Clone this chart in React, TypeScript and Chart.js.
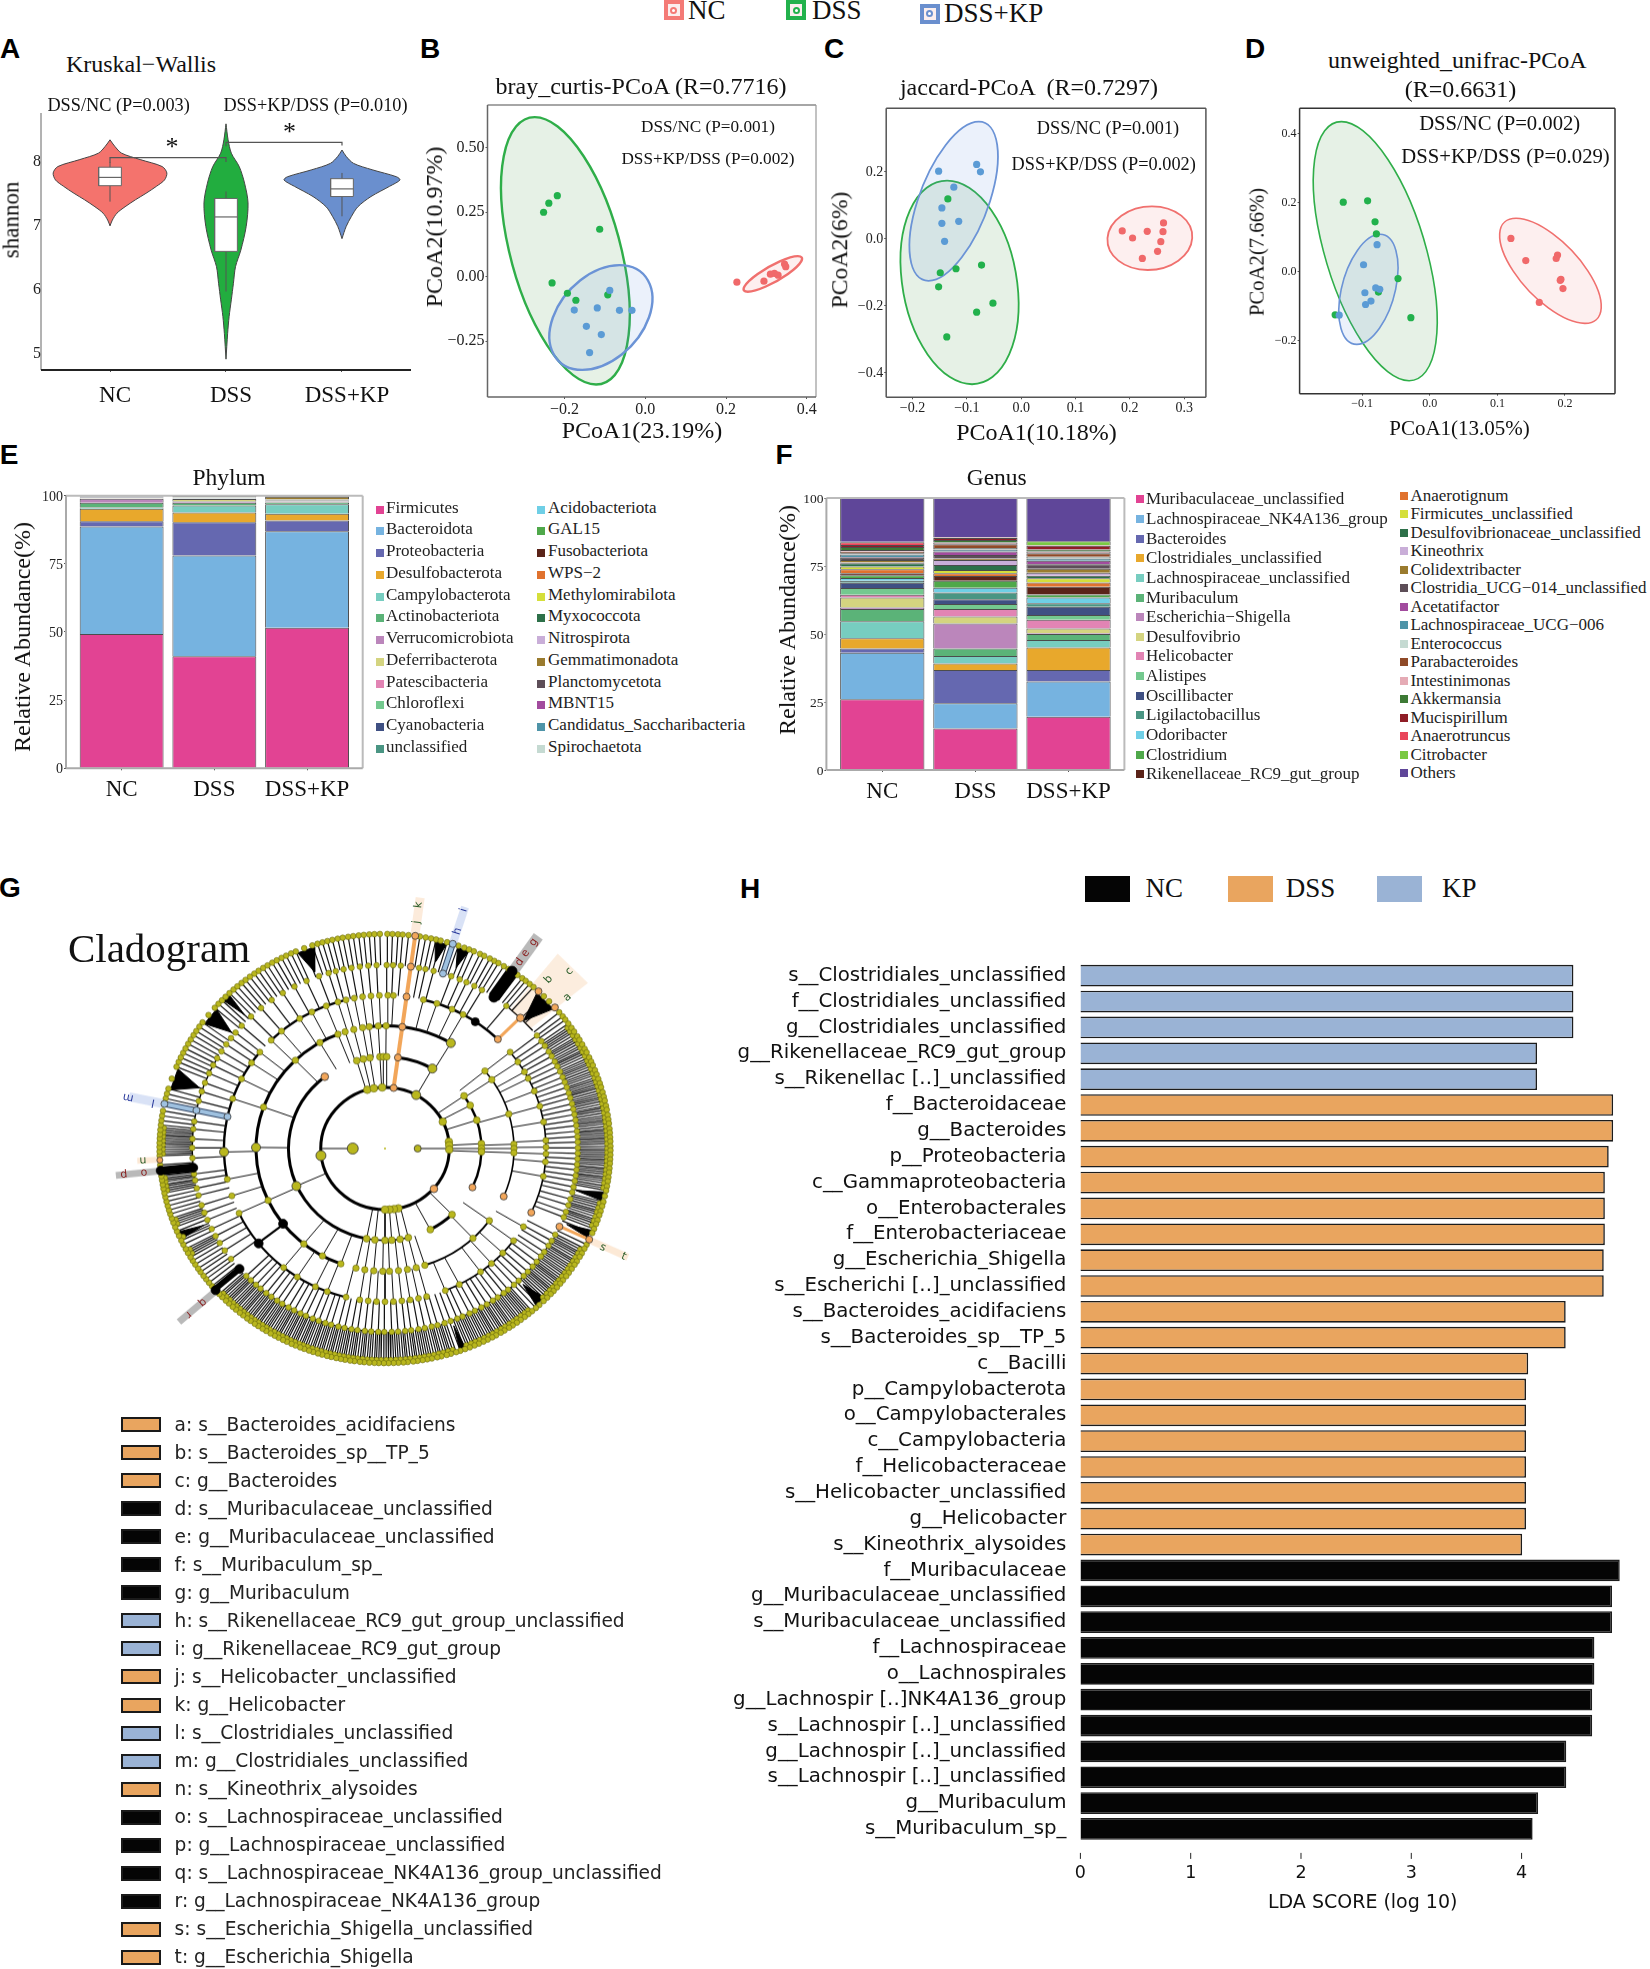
import React, { useEffect, useRef } from "react";
import { Chart, registerables } from "chart.js";

Chart.register(...registerables);

const SERIF = "'Liberation Serif'";
const DEJAVU = "'DejaVu Sans'";
const RED = "#f4736d";
const GREEN = "#22ad3f";
const BLUE = "#6a8fce";

// ---------- A: violin ----------
const groups = ["NC", "DSS", "DSS+KP"];
const shannonTicks = [5, 6, 7, 8];
const violinNCy = [8.35, 8.25, 8.14, 8.04, 7.93, 7.83, 7.72, 7.62, 7.51, 7.41, 7.3, 7.2, 7.09, 7.0];
const violinNCw = [0, 0.04, 0.1, 0.26, 0.45, 0.49, 0.47, 0.4, 0.31, 0.22, 0.13, 0.06, 0.02, 0];
const violinDSSy = [8.6, 8.35, 8.14, 7.93, 7.67, 7.36, 6.99, 6.62, 6.36, 6.1, 5.84, 5.58, 5.31, 4.91];
const violinDSSw = [0, 0.018, 0.046, 0.114, 0.16, 0.19, 0.174, 0.128, 0.082, 0.064, 0.046, 0.027, 0.014, 0];
const violinKPy = [8.19, 8.09, 7.98, 7.88, 7.77, 7.72, 7.62, 7.46, 7.3, 7.15, 6.99, 6.8];
const violinKPw = [0, 0.036, 0.1, 0.26, 0.47, 0.5, 0.41, 0.25, 0.137, 0.082, 0.036, 0];
// whisker low, q1, median, q3, whisker high
const boxNC = [7.38, 7.63, 7.76, 7.92, 8.0];
const boxDSS = [5.97, 6.6, 7.14, 7.43, 7.54];
const boxKP = [7.15, 7.46, 7.58, 7.74, 7.83];
const bracketNCDSS = [[1, 7.99], [1, 8.07], [2, 8.07], [2, 8.0]];
const bracketDSSKP = [[2, 8.25], [2, 8.31], [3, 8.31], [3, 8.26]];

// ---------- B, C, D: PCoA ----------
const brayDSS = [[-0.218, 0.314], [-0.239, 0.285], [-0.252, 0.25], [-0.113, 0.184], [-0.231, -0.024], [-0.193, -0.064], [-0.172, -0.091], [-0.093, -0.07]];
const brayKP = [[-0.088, -0.053], [-0.119, -0.121], [-0.176, -0.129], [-0.064, -0.13], [-0.033, -0.13], [-0.146, -0.192], [-0.109, -0.224], [-0.138, -0.294]];
const brayNC = [[0.227, -0.021], [0.294, -0.017], [0.31, 0.01], [0.32, 0.013], [0.329, 0.006], [0.345, 0.049], [0.348, 0.039]];
// centre x, centre y, topmost x, topmost y, half chord through the centre
const brayEllipseDSS = [-0.198, 0.1005, -0.274, 0.6186, 0.14];
const brayEllipseKP = [-0.11, -0.158, -0.064, 0.045, 0.119];
const brayEllipseNC = [0.316, 0.011, 0.378, 0.08, 0.0375];

const jaccardKP = [[-0.152, 0.202], [-0.082, 0.222], [-0.075, 0.2], [-0.124, 0.154], [-0.146, 0.092], [-0.115, 0.052], [-0.146, 0.046], [-0.141, -0.008]];
const jaccardDSS = [[-0.135, 0.119], [-0.149, -0.102], [-0.12, -0.09], [-0.073, -0.079], [-0.152, -0.144], [-0.052, -0.193], [-0.082, -0.22], [-0.137, -0.294]];
const jaccardNC = [[0.186, 0.023], [0.205, 0.002], [0.232, 0.022], [0.262, 0.047], [0.261, 0.021], [0.257, -0.009], [0.251, -0.038], [0.223, -0.059]];
const jaccardEllipseDSS = [-0.1135, -0.131, -0.1365, 0.1735, 0.1062];
const jaccardEllipseKP = [-0.1243, 0.112, -0.078, 0.35, 0.067];
const jaccardEllipseNC = [0.2368, 0.0015, 0.2407, 0.0967, 0.078];

const unifracDSS = [[-0.128, 0.201], [-0.092, 0.205], [-0.081, 0.144], [-0.079, 0.109], [-0.047, -0.02], [-0.076, -0.059], [-0.14, -0.125], [-0.028, -0.133]];
const unifracKP = [[-0.078, 0.078], [-0.098, 0.02], [-0.096, -0.061], [-0.08, -0.047], [-0.074, -0.051], [-0.087, -0.085], [-0.095, -0.095], [-0.134, -0.126]];
const unifracNC = [[0.12, 0.096], [0.142, 0.032], [0.189, 0.048], [0.187, 0.038], [0.194, -0.022], [0.193, -0.025], [0.197, -0.049], [0.162, -0.089]];
const unifracEllipseDSS = [-0.0807, 0.0593, -0.1308, 0.434, 0.0767];
const unifracEllipseKP = [-0.0908, -0.0511, -0.0736, 0.108, 0.0403];
const unifracEllipseNC = [0.1785, 0.0024, 0.1276, 0.1543, 0.0553];

// ---------- E: phylum ----------
const phylumNames = ["Firmicutes", "Bacteroidota", "Proteobacteria", "Desulfobacterota", "Campylobacterota", "Actinobacteriota", "Verrucomicrobiota", "Deferribacterota", "Patescibacteria", "Chloroflexi", "Cyanobacteria", "unclassified", "Acidobacteriota", "GAL15", "Fusobacteriota", "WPS\u22122", "Methylomirabilota", "Myxococcota", "Nitrospirota", "Gemmatimonadota", "Planctomycetota", "MBNT15", "Candidatus_Saccharibacteria", "Spirochaetota"];
const phylumColors = ["#e24393", "#76b3e0", "#6568b0", "#e8a82c", "#77cdc0", "#5bb378", "#bb86bb", "#d4d480", "#e284b4", "#74c98f", "#3f5083", "#4a9583", "#6fcfe6", "#4fa84a", "#5a2318", "#e0722e", "#d5df3a", "#2d7049", "#c9aed8", "#9a7b2e", "#5d4e58", "#a24b9e", "#4e94a8", "#c5dad2"];
const phylumNC = [49.3, 39.4, 1.9, 4.6, 0.5, 1.7, 1.5, 0.1, 0.1, 0.1, 0.1, 0.1, 0.04, 0.05, 0.02, 0.02, 0.02, 0.1, 0.02, 0.05, 0.15, 0.02, 0.03, 0.08];
const phylumDSS = [41.1, 37.0, 12.2, 3.5, 2.6, 1.0, 0.5, 0.9, 0.1, 0.1, 0.1, 0.1, 0.04, 0.05, 0.02, 0.02, 0.02, 0.1, 0.02, 0.05, 0.35, 0.02, 0.03, 0.08];
const phylumKP = [51.6, 35.4, 3.9, 2.5, 3.5, 0.6, 0.1, 0.1, 0.2, 0.1, 0.2, 0.1, 0.04, 0.05, 0.02, 0.02, 0.02, 0.1, 0.02, 1.0, 0.3, 0.02, 0.03, 0.08];

// ---------- F: genus ----------
const genusNames = ["Muribaculaceae_unclassified", "Lachnospiraceae_NK4A136_group", "Bacteroides", "Clostridiales_unclassified", "Lachnospiraceae_unclassified", "Muribaculum", "Escherichia\u2212Shigella", "Desulfovibrio", "Helicobacter", "Alistipes", "Oscillibacter", "Ligilactobacillus", "Odoribacter", "Clostridium", "Rikenellaceae_RC9_gut_group", "Anaerotignum", "Firmicutes_unclassified", "Desulfovibrionaceae_unclassified", "Kineothrix", "Colidextribacter", "Clostridia_UCG\u2212014_unclassified", "Acetatifactor", "Lachnospiraceae_UCG\u2212006", "Enterococcus", "Parabacteroides", "Intestinimonas", "Akkermansia", "Mucispirillum", "Anaerotruncus", "Citrobacter", "Others"];
const genusColors = ["#e24393", "#76b3e0", "#6568b0", "#e8a82c", "#77cdc0", "#5bb378", "#bb86bb", "#d4d480", "#e284b4", "#74c98f", "#3f5083", "#4a9583", "#6fcfe6", "#4fa84a", "#5a2318", "#e0722e", "#d5df3a", "#2d7049", "#c9aed8", "#9a7b2e", "#5d4e58", "#a24b9e", "#4e94a8", "#c5dad2", "#8f4a28", "#e5abb5", "#3d7a35", "#8f1d26", "#e9455a", "#7ac943", "#5f4699"];
const genusNC = [26.0, 17.1, 1.6, 3.7, 6.3, 4.5, 0.5, 3.7, 1.0, 2.5, 1.9, 0.8, 1.0, 1.0, 0.7, 1.5, 1.0, 1.2, 0.3, 0.9, 0.8, 0.3, 0.9, 0.5, 0.5, 0.7, 1.1, 0.7, 1.0, 0.2, 16.1];
const genusDSS = [15.3, 9.2, 12.3, 2.4, 2.7, 2.8, 9.2, 2.5, 2.8, 1.8, 1.8, 2.5, 1.7, 2.6, 1.7, 1.0, 1.2, 1.9, 1.8, 0.6, 1.2, 1.3, 0.8, 0.5, 1.4, 0.6, 1.0, 0.7, 0.2, 0.1, 14.4];
const genusKP = [19.6, 12.9, 4.3, 8.2, 2.8, 2.2, 0.3, 1.7, 3.2, 1.8, 3.0, 1.3, 2.1, 1.1, 2.9, 1.5, 1.6, 0.9, 1.1, 1.5, 1.6, 1.3, 0.9, 0.6, 1.3, 0.6, 0.8, 1.3, 0.2, 1.5, 15.9];

// ---------- G: cladogram (compass degrees, radius relative to outer ring) ----------
const cladeRadii = [0.285, 0.428, 0.572, 0.714, 0.855, 1.0];
const rootAngles = [270, 90];
const ring0Angles = [344, 350, 357.5, 29, 64, 83.6, 87, 91, 168, 172, 176, 180, 263];
const ring1Angles = [343, 347, 351, 357, 359, 1, 29.4, 55, 62, 72, 87, 90, 92, 136, 152, 191, 186, 180, 176, 171, 166, 246];
const ring2Angles = [338.6, 342, 346, 350, 353, 357, 0.5, 30.7, 50.8, 55.9, 73.7, 88, 90, 92, 126, 137, 162, 166, 170, 174, 178, 181, 185, 189, 193, 200, 209, 219, 245, 270.5, 289.7, 316, 329.7];
const ring3Angles = [309, 315, 320, 328, 333, 338.6, 343, 346, 349, 352, 355, 358, 1, 3, 13.8, 18.8, 24.6, 29, 51, 55.6, 60, 62.8, 68, 74, 80, 87, 89.5, 92, 95, 100.5, 120.7, 127, 133, 138.6, 143.6, 152.5, 158, 165, 168, 171, 174, 177, 180, 183, 186, 189, 194, 201, 205.6, 213, 219, 245, 252, 258.4, 268.7, 289, 297, 304];
const ring4Angles = [0.5, 2.4, 4.7, 10.2, 12.1, 14.6, 20.1, 22.8, 25, 27.6, 30.2, 39, 52, 54.2, 56, 58.1, 59.8, 61.7, 63.4, 65.2, 67.1, 68.8, 70.5, 72.4, 74, 75.9, 77.6, 79.3, 81.1, 82.8, 84.6, 86.3, 88, 89.8, 91.5, 93.2, 95, 96.7, 98.5, 100.2, 102.1, 103.8, 106, 108, 110.2, 112, 118, 120.2, 122, 124.3, 126, 128.1, 130, 132.2, 134, 136.1, 138, 140.3, 142, 144.2, 146, 148.1, 150, 152.2, 154, 156.3, 158, 160.1, 162, 164.2, 166, 168.1, 170, 172.2, 174, 176.1, 178, 180.2, 182, 184.1, 186, 188.2, 190, 192.1, 194, 196.2, 198, 200.1, 202, 204.2, 206, 208.1, 210, 212.2, 214, 216.1, 218, 220.2, 222, 224.1, 226, 233, 236.2, 239, 241.5, 244, 247.1, 249.5, 252, 255.2, 257.5, 260, 262, 267, 270.2, 273, 276.1, 278.5, 285, 288.1, 291, 294.2, 297, 299.5, 302, 304.6, 307, 309.2, 312, 316, 320, 324, 328, 332, 336, 340, 343, 345.2, 347.6, 350, 352.5, 355, 357.5];
const ring5Angles = [0.6, 1.9, 3.3, 4.5, 6, 8.9, 10.4, 11.8, 13.1, 14.3, 16, 19, 20.6, 21.9, 23.2, 24.9, 26.1, 27.7, 29, 30.2, 31.8, 33.2, 36, 37.5, 38.6, 39.9, 41.2, 44.8, 46.7, 50.6, 52, 53.1, 54.4, 55.8, 57, 58.5, 59.6, 61, 62.3, 63.4, 64.9, 66.1, 67.2, 68.6, 69.8, 71.1, 72.3, 73.4, 74.8, 76, 77.1, 78.5, 79.6, 81, 82.2, 83.3, 84.7, 85.8, 87, 88.1, 89.4, 90.5, 91.7, 92.9, 94, 95.3, 96.4, 97.7, 98.8, 100.1, 101.3, 102.8, 104.4, 105.6, 107, 108.1, 109.5, 110.6, 112, 113.2, 116.6, 117.8, 119.2, 120.3, 121.7, 122.8, 124.1, 125.4, 126.5, 127.9, 129, 130.3, 131.6, 132.7, 134, 135.3, 136.8, 138, 139.3, 140.5, 141.7, 143, 144.2, 145.5, 146.6, 148, 149.1, 150.5, 151.6, 152.9, 154.1, 155.4, 156.6, 157.9, 159.2, 160.5, 161.6, 163, 164.1, 165.5, 166.6, 168, 169.2, 170.4, 171.7, 172.8, 174.2, 175.3, 176.6, 177.8, 179.1, 180.3, 181.6, 182.7, 184, 185.3, 186.4, 187.8, 188.9, 190.2, 191.3, 192.5, 193.8, 194.9, 196.2, 197.3, 198.6, 199.7, 201, 202.1, 203.4, 204.5, 205.8, 206.9, 208.2, 209.3, 210.5, 211.8, 212.9, 214.2, 215.3, 216.6, 217.7, 219, 220.1, 221.4, 222.5, 223.8, 224.9, 226.2, 227.3, 230.1, 231.3, 232.5, 233.6, 234.9, 236, 237.3, 238.5, 239.6, 240.9, 242.1, 243.4, 244.6, 246, 247.3, 248.5, 249.8, 251, 252.2, 253.3, 254.5, 255.7, 256.9, 258, 259.2, 260.3, 261.5, 262.6, 265.6, 268.1, 269.2, 270.4, 271.5, 272.7, 273.8, 275, 276.3, 277.5, 278.8, 280.1, 283.5, 284.8, 286.2, 289, 292.4, 293.8, 295.1, 296.5, 297.8, 299.2, 300.5, 301.9, 303.2, 304.6, 306, 308.5, 311, 312.4, 313.7, 315, 316.4, 317.8, 319.1, 320.5, 321.8, 323.2, 324.6, 325.9, 327.3, 328.6, 330, 331.3, 332.7, 334, 335.4, 336.7, 339, 341.2, 342.6, 343.9, 345.2, 346.5, 347.9, 349.2, 350.6, 351.9, 353.3, 354.6, 356, 357.3, 358.7];
const ring5Dense = [55.2, 56.4, 57.7, 59, 60.3, 61.6, 62.8, 64.1, 65.5, 66.6, 67.9, 69.2, 70.5, 71.7, 72.9, 74.1, 75.4, 76.5, 77.8, 79, 80.3, 81.6, 82.7, 84, 85.2, 86.4, 87.5, 88.7, 90, 91.1, 92.3, 93.4, 94.6, 95.8, 97, 98.2, 99.4, 100.7, 105, 106.3, 107.5, 108.8, 110, 111.3, 118.5, 119.7, 121, 122.2, 123.5, 124.7, 126, 127.2, 128.5, 129.6, 131, 132.1, 133.3, 134.7, 139.9, 141.1, 142.3, 143.6, 144.8, 146, 147.3, 148.5, 149.8, 151, 152.2, 153.5, 154.8, 156, 157.2, 158.5, 162.3, 163.5, 164.8, 166, 167.3, 168.6, 169.8, 171, 172.2, 173.5, 174.7, 176, 177.2, 178.5, 179.7, 181, 182.2, 183.4, 184.6, 185.8, 187.1, 188.3, 189.5, 190.7, 191.9, 193.1, 194.3, 195.5, 196.7, 197.9, 199.1, 200.4, 201.6, 202.7, 203.9, 205.1, 206.3, 207.5, 208.7, 209.9, 211.2, 212.3, 213.5, 214.7, 215.9, 217.1, 218.3, 219.5, 220.7, 221.9, 223.1, 224.3, 225.5, 226.7, 240.3, 241.5, 245.3, 249.2, 250.4, 258.6, 259.8, 261, 262, 268.6, 269.8, 271, 272.1, 273.3, 274.4, 275.6];
// ring radius, from, to, line width
const cladeArcs = [[0.285, 0, 360, 3], [0.428, 191, 321, 3], [0.428, 8, 29, 3], [0.428, 55, 115, 2.4], [0.428, 136, 152, 3], [0.428, 166, 191, 1.5], [0.572, 200, 340, 3], [0.572, 353, 391, 3], [0.572, 50, 113, 1.6], [0.572, 126, 162, 2], [0.714, 258, 309, 2.4], [0.714, 315, 345, 2.4], [0.714, 373, 404, 2.4], [0.714, 51, 115, 1.6], [0.714, 127, 158, 1.8], [0.714, 195, 245, 2.2], [0.855, 40, 50, 1.4], [0.855, 260, 300, 1.4], [0.855, 120, 160, 1.2], [0.855, 180, 225, 1.2]];
// from, to, apex radius
const cladeWedges = [[337, 341.5, 0.88], [13, 16, 0.9], [19, 22, 0.9], [42.9, 48.9, 0.855], [306, 311, 0.87], [286, 292, 0.87], [101.8, 104.2, 0.87], [112.6, 114.8, 0.88], [134.5, 137.5, 0.88], [159, 160.5, 0.88], [314, 316, 0.88], [245, 247, 0.88]];
// angle, from radius, to radius, colour, width
const cladeStrong = [
  [7.7, 0.285, 1, "#f2a65a", 4], [17.5, 0.855, 1, "#2c4060", 6], [17.5, 0.855, 1, "#9fc1e0", 4], [282, 0.714, 1, "#2c4060", 6], [282, 0.714, 1, "#9fc1e0", 4],
  [34.4, 0.855, 1, "#000", 12], [264, 0.855, 1, "#000", 9], [229, 0.855, 1, "#000", 6], [231.9, 0.572, 0.714, "#000", 2],
  [115.1, 0.855, 1, "#f2a65a", 3], [44.5, 0.714, 0.855, "#f2a65a", 3],
];
const cladeBands = [
  [7.6, 1.01, 1.18, "rgba(242,166,90,.22)", 9], [17.5, 1.01, 1.18, "rgba(130,160,225,.3)", 8], [34.5, 1.0, 1.2, "rgba(80,80,80,.4)", 11],
  [282, 1.01, 1.16, "rgba(130,160,225,.3)", 9], [267, 1.01, 1.1, "rgba(242,166,90,.25)", 6], [264, 1.0, 1.2, "rgba(80,80,80,.4)", 7],
  [228.5, 1.0, 1.22, "rgba(80,80,80,.4)", 7], [115.2, 1.01, 1.19, "rgba(242,166,90,.25)", 7],
];
const cladeCPatch = [[0.766, 0.908], [0.9, 0.772], [0.648, 0.561], [0.558, 0.648], [0.766, 0.908]];
// angle, radius, colour, point radius
const cladeMarked = [
  [270, 0.143, "#b9b71e", 5.5], [90, 0.145, "#b9b71e", 3.5], [263.4, 0.286, "#b9b71e", 5], [270.5, 0.572, "#b9b71e", 4.5], [268.7, 0.714, "#b9b71e", 4.5], [246, 0.43, "#b9b71e", 4.5], [29.4, 0.428, "#b9b71e", 4.5], [30.7, 0.572, "#b9b71e", 4.5], [29, 0.285, "#b9b71e", 4.5],
  [7.7, 0.285, "#f2a65a", 3.5], [7.7, 0.428, "#f2a65a", 3.5], [7.7, 0.572, "#f2a65a", 3.5], [7.7, 0.714, "#f2a65a", 3.5], [7.7, 0.855, "#f2a65a", 3.5], [7.7, 1, "#f2a65a", 3.5],
  [17.5, 0.855, "#9fc1e0", 3.5], [17.5, 1, "#9fc1e0", 3.5], [282, 0.714, "#9fc1e0", 3.5], [282, 0.855, "#9fc1e0", 3.5], [282, 1, "#9fc1e0", 3.5],
  [34.4, 0.855, "#000", 5], [34.3, 1, "#000", 5], [34.1, 0.714, "#000", 4], [264, 0.855, "#000", 4.5], [264.1, 1, "#000", 4.5], [229, 0.855, "#000", 4.5], [228.7, 1, "#000", 4.5], [232.2, 0.572, "#000", 4.5], [231.7, 0.714, "#000", 4.5],
  [44.5, 0.714, "#f2a65a", 3.5], [44.6, 0.855, "#f2a65a", 3.8], [42.9, 1, "#f2a65a", 3.5], [48.9, 1, "#f2a65a", 3.5], [266.9, 1, "#f2a65a", 3],
  [115.2, 0.855, "#f2a65a", 3.5], [115.1, 1, "#f2a65a", 3.5], [114.7, 0.714, "#f2a65a", 3.5], [113, 0.572, "#f2a65a", 3.5], [115, 0.428, "#f2a65a", 3.5], [130.9, 0.287, "#f2a65a", 3.8], [321.4, 0.428, "#f2a65a", 3.8],
];
// letter, angle, radius, colour
const cladeLetters = [
  ["k", 7.5, 1.12, "#2b5e2b"], ["j", 7.6, 1.04, "#2b5e2b"], ["h", 17.5, 1.04, "#28389a"], ["i", 17.5, 1.14, "#28389a"], ["d", 34.5, 1.03, "#8a1f1f"], ["e", 34.5, 1.08, "#8a1f1f"], ["g", 34.5, 1.14, "#8a1f1f"],
  ["a", 49, 1.05, "#2b5e2b"], ["b", 42.7, 1.05, "#2b5e2b"], ["c", 44.6, 1.14, "#2b5e2b"], ["m", 281.7, 1.14, "#28389a"], ["l", 281.7, 1.03, "#28389a"], ["n", 267, 1.05, "#2b5e2b"],
  ["o", 263.9, 1.05, "#8a1f1f"], ["p", 263.9, 1.14, "#8a1f1f"], ["q", 228.3, 1.06, "#8a1f1f"], ["r", 228.3, 1.14, "#8a1f1f"], ["s", 115.2, 1.05, "#2b5e2b"], ["t", 115.2, 1.15, "#2b5e2b"],
];
const cladeLegend = [
  ["a: s__Bacteroides_acidifaciens", "D"], ["b: s__Bacteroides_sp__TP_5", "D"], ["c: g__Bacteroides", "D"], ["d: s__Muribaculaceae_unclassified", "N"], ["e: g__Muribaculaceae_unclassified", "N"], ["f: s__Muribaculum_sp_", "N"], ["g: g__Muribaculum", "N"], ["h: s__Rikenellaceae_RC9_gut_group_unclassified", "K"], ["i: g__Rikenellaceae_RC9_gut_group", "K"], ["j: s__Helicobacter_unclassified", "D"], ["k: g__Helicobacter", "D"], ["l: s__Clostridiales_unclassified", "K"], ["m: g__Clostridiales_unclassified", "K"], ["n: s__Kineothrix_alysoides", "D"], ["o: s__Lachnospiraceae_unclassified", "N"], ["p: g__Lachnospiraceae_unclassified", "N"], ["q: s__Lachnospiraceae_NK4A136_group_unclassified", "N"], ["r: g__Lachnospiraceae_NK4A136_group", "N"], ["s: s__Escherichia_Shigella_unclassified", "D"], ["t: g__Escherichia_Shigella", "D"],
];
const swatch = { D: "#e9a55f", N: "#050505", K: "#9ab3d5" };

// ---------- H: LDA ----------
const ldaKPLabels = ["s__Clostridiales_unclassified", "f__Clostridiales_unclassified", "g__Clostridiales_unclassified", "g__Rikenellaceae_RC9_gut_group", "s__Rikenellac [..]_unclassified"];
const ldaKPValues = [4.47, 4.47, 4.47, 4.14, 4.14];
const ldaDSSLabels = ["f__Bacteroidaceae", "g__Bacteroides", "p__Proteobacteria", "c__Gammaproteobacteria", "o__Enterobacterales", "f__Enterobacteriaceae", "g__Escherichia_Shigella", "s__Escherichi [..]_unclassified", "s__Bacteroides_acidifaciens", "s__Bacteroides_sp__TP_5", "c__Bacilli", "p__Campylobacterota", "o__Campylobacterales", "c__Campylobacteria", "f__Helicobacteraceae", "s__Helicobacter_unclassified", "g__Helicobacter", "s__Kineothrix_alysoides"];
const ldaDSSValues = [4.83, 4.83, 4.79, 4.755, 4.755, 4.755, 4.745, 4.745, 4.4, 4.4, 4.06, 4.04, 4.04, 4.04, 4.04, 4.04, 4.04, 4.005];
const ldaNCLabels = ["f__Muribaculaceae", "g__Muribaculaceae_unclassified", "s__Muribaculaceae_unclassified", "f__Lachnospiraceae", "o__Lachnospirales", "g__Lachnospir [..]NK4A136_group", "s__Lachnospir [..]_unclassified", "g__Lachnospir [..]_unclassified", "s__Lachnospir [..]_unclassified", "g__Muribaculum", "s__Muribaculum_sp_"];
const ldaNCValues = [4.89, 4.82, 4.82, 4.66, 4.66, 4.64, 4.64, 4.405, 4.405, 4.15, 4.1];
const ldaTicks = [0, 1, 2, 3, 4];

// ---------- helpers ----------
const minus = (s) => s.replace("-", "\u2212");
const pts = (arr) => arr.map(([x, y]) => ({ x, y }));

function base(rect, plot) {
  return {
    responsive: false,
    animation: false,
    layout: { padding: { left: 0, top: plot.t - rect.t, right: rect.r - plot.r, bottom: 0 } },
    plugins: { legend: { display: false }, tooltip: { enabled: false }, title: { display: false } },
  };
}

function axis({ size, horizontal, vals, fmt, min, max, font, pad = 1, tick = 3, labelOffset = 0, color = "#222", stacked }) {
  return {
    type: "linear",
    min,
    max,
    stacked,
    offset: false,
    afterBuildTicks: (s) => { s.ticks = vals.map((value) => ({ value })); },
    afterFit: (s) => { if (horizontal) s.height = size; else s.width = size; },
    ticks: { callback: fmt, font, color, padding: pad, labelOffset, autoSkip: false, maxRotation: 0, minRotation: 0 },
    grid: { display: true, offset: false, drawOnChartArea: false, drawTicks: tick > 0, tickLength: tick, tickColor: "#555" },
    border: { display: false },
  };
}

function framePlugin(sides) {
  return {
    id: "frame",
    afterDatasetsDraw(chart) {
      const { left, right, top, bottom } = chart.chartArea;
      const { ctx } = chart;
      const seg = (s, x0, y0, x1, y1) => {
        if (!s) return;
        ctx.save();
        ctx.strokeStyle = s[0];
        ctx.lineWidth = s[1];
        ctx.beginPath();
        ctx.moveTo(x0, y0);
        ctx.lineTo(x1, y1);
        ctx.stroke();
        ctx.restore();
      };
      seg(sides.t, left, top, right, top);
      seg(sides.r, right, top, right, bottom);
      seg(sides.l, left, top, left, bottom);
      seg(sides.b, left, bottom, right, bottom);
    },
  };
}

function ellipsePlugin(items) {
  return {
    id: "ellipses",
    beforeDatasetsDraw(chart) {
      const { ctx } = chart;
      const { x, y } = chart.scales;
      items.forEach(({ e, stroke, fill, lw }) => {
        const cx = x.getPixelForValue(e[0]);
        const cy = y.getPixelForValue(e[1]);
        const ux = x.getPixelForValue(e[2]) - cx;
        const uy = y.getPixelForValue(e[3]) - cy;
        const vx = x.getPixelForValue(e[0] + e[4]) - cx;
        ctx.save();
        ctx.beginPath();
        ctx.save();
        ctx.transform(vx, 0, ux, uy, cx, cy);
        ctx.arc(0, 0, 1, 0, Math.PI * 2);
        ctx.restore();
        ctx.fillStyle = fill;
        ctx.fill();
        ctx.strokeStyle = stroke;
        ctx.lineWidth = lw;
        ctx.stroke();
        ctx.restore();
      });
    },
  };
}

const polar = (a, r) => ({ x: r * Math.sin((a * Math.PI) / 180), y: r * Math.cos((a * Math.PI) / 180) });

function arcsPlugin(arcs) {
  return {
    id: "arcs",
    beforeDatasetsDraw(chart) {
      const { ctx } = chart;
      const { x, y } = chart.scales;
      const cx = x.getPixelForValue(0);
      const cy = y.getPixelForValue(0);
      const rx = x.getPixelForValue(1) - cx;
      const ry = cy - y.getPixelForValue(1);
      arcs.forEach(([r, a0, a1, lw]) => {
        ctx.save();
        ctx.beginPath();
        ctx.save();
        ctx.transform(rx, 0, 0, ry, cx, cy);
        ctx.arc(0, 0, r, ((a0 - 90) * Math.PI) / 180, ((a1 - 90) * Math.PI) / 180);
        ctx.restore();
        ctx.strokeStyle = "#000";
        ctx.lineWidth = lw;
        ctx.stroke();
        ctx.restore();
      });
    },
  };
}

function ldaTickPlugin() {
  return {
    id: "ldaTicks",
    afterDatasetsDraw(chart) {
      const { ctx } = chart;
      const sx = chart.scales.x;
      const b = chart.chartArea.bottom;
      ctx.save();
      ctx.strokeStyle = "#222";
      ctx.lineWidth = 1;
      sx.ticks.forEach((t) => {
        const p = sx.getPixelForValue(t.value);
        ctx.beginPath();
        ctx.moveTo(p, b + 11);
        ctx.lineTo(p, b + 17);
        ctx.stroke();
      });
      ctx.restore();
    },
  };
}

// ---------- chart configs ----------
function violinConfig(rect, plot) {
  const violin = (c, ys, ws, color) => {
    const left = ys.map((y, i) => ({ x: c - ws[i], y }));
    const right = ys.map((y, i) => ({ x: c + ws[i], y })).reverse();
    return { type: "scatter", showLine: true, data: [...left, ...right], fill: "shape", backgroundColor: color, borderColor: "#444", borderWidth: 1, pointRadius: 0, tension: 0.3 };
  };
  const line = (data, color = "#555", w = 1.2) => ({ type: "scatter", showLine: true, data, borderColor: color, borderWidth: w, pointRadius: 0, fill: false });
  const box = (c, b) => [
    line([{ x: c, y: b[0] }, { x: c, y: b[4] }], "#555", 1),
    { type: "scatter", showLine: true, data: [{ x: c - 0.098, y: b[1] }, { x: c + 0.098, y: b[1] }, { x: c + 0.098, y: b[3] }, { x: c - 0.098, y: b[3] }, { x: c - 0.098, y: b[1] }], fill: "shape", backgroundColor: "#fff", borderColor: "#666", borderWidth: 1, pointRadius: 0 },
    line([{ x: c - 0.098, y: b[2] }, { x: c + 0.098, y: b[2] }], "#666", 1.2),
  ];
  const bottomFirst = [
    violin(1, violinNCy, violinNCw, RED),
    violin(2, violinDSSy, violinDSSw, GREEN),
    violin(3, violinKPy, violinKPw, BLUE),
    ...box(1, boxNC),
    ...box(2, boxDSS),
    ...box(3, boxKP),
    line(pts(bracketNCDSS)),
    line(pts(bracketDSSKP)),
  ];
  return {
    type: "scatter",
    data: { datasets: bottomFirst.reverse() },
    options: {
      ...base(rect, plot),
      scales: {
        x: axis({ horizontal: true, size: rect.b - plot.b, vals: [1, 2, 3], fmt: (v) => groups[v - 1], min: 0.405, max: 3.595, font: { family: SERIF, size: 23 }, pad: 10, tick: 2, labelOffset: 5, color: "#111" }),
        y: axis({ size: plot.l - rect.l, vals: shannonTicks, fmt: (v) => String(v), min: 4.74, max: 8.77, font: { family: SERIF, size: 16 }, pad: 0, tick: 0 }),
      },
    },
    plugins: [framePlugin({ l: ["#666", 1], b: ["#222", 2] })],
  };
}

function pcoaConfig(rect, plot, spec) {
  const dot = (arr, color) => ({ type: "scatter", data: pts(arr), backgroundColor: color, borderColor: color, pointRadius: 3.6, pointBorderWidth: 0 });
  const f = spec.frame;
  return {
    type: "scatter",
    data: { datasets: [dot(spec.nc, "#f0696a"), dot(spec.kp, "#5b9bd5"), dot(spec.dss, "#22b14c")] },
    options: {
      ...base(rect, plot),
      scales: {
        x: axis({ horizontal: true, size: rect.b - plot.b, vals: spec.xt, fmt: (v) => minus(v.toFixed(1)), min: spec.xr[0], max: spec.xr[1], font: { family: SERIF, size: spec.fx }, pad: 1, tick: 2 }),
        y: axis({ size: plot.l - rect.l, vals: spec.yt, fmt: (v) => minus(v.toFixed(spec.yd)), min: spec.yr[0], max: spec.yr[1], font: { family: SERIF, size: spec.fy }, pad: 1, tick: 2, labelOffset: spec.lo }),
      },
    },
    plugins: [
      ellipsePlugin([
        { e: spec.ed, stroke: "#2fae49", fill: "rgba(46,139,46,.12)", lw: spec.lw },
        { e: spec.ek, stroke: "#6b93d6", fill: "rgba(90,140,220,.12)", lw: spec.lw },
        { e: spec.en, stroke: "#f0706e", fill: "rgba(240,100,100,.1)", lw: spec.lw },
      ]),
      framePlugin(f),
    ],
  };
}

function stackConfig(rect, plot, names, colors, a, b, c, tickSize) {
  const datasets = names.map((label, i) => ({
    label,
    data: [{ x: 1, y: a[i] }, { x: 2, y: b[i] }, { x: 3, y: c[i] }],
    backgroundColor: colors[i],
    borderColor: "rgba(45,45,45,.85)",
    borderWidth: { top: 1, bottom: 0, left: 1, right: 1 },
    barPercentage: 0.905,
    categoryPercentage: 1,
  }));
  return {
    type: "bar",
    data: { datasets },
    options: {
      ...base(rect, plot),
      scales: {
        x: axis({ horizontal: true, size: rect.b - plot.b, vals: [1, 2, 3], fmt: (v) => groups[v - 1], min: 0.4, max: 3.6, font: { family: SERIF, size: 23 }, pad: 6, tick: 2, color: "#111", stacked: true }),
        y: axis({ size: plot.l - rect.l, vals: [0, 25, 50, 75, 100], fmt: (v) => String(v), min: 0, max: 100, font: { family: SERIF, size: tickSize }, pad: 1, tick: 2, labelOffset: 1.5, stacked: true }),
      },
    },
    plugins: [framePlugin({ l: ["#aaa", 2], b: ["#aaa", 2], t: ["#bbb", 2], r: ["#bbb", 2] })],
  };
}

function cladeConfig(rect) {
  const plot = rect;
  const spoke = (angles, r0, r1) => {
    const out = [];
    angles.forEach((a) => { out.push(polar(a, r0), polar(a, r1), { x: NaN, y: NaN }); });
    return out;
  };
  const lines = (data, color = "#111", w = 1.2) => ({ type: "scatter", showLine: true, data, borderColor: color, borderWidth: w, pointRadius: 0, fill: false, spanGaps: false });
  const nodes = (angles, r, radius) => ({ type: "scatter", data: angles.map((a) => polar(a, r)), backgroundColor: "#b9b71e", borderColor: "#66660c", pointBorderWidth: 0.6, pointRadius: radius });
  const [r0, r1, r2, r3, r4, r5] = cladeRadii;
  const bottomFirst = [
    { type: "scatter", showLine: true, data: pts(cladeCPatch), fill: "shape", backgroundColor: "rgba(242,166,90,.2)", borderWidth: 0, pointRadius: 0 },
    ...cladeBands.map(([a, f, t, c, w]) => lines([polar(a, f), polar(a, t)], c, w)),
    lines(spoke(rootAngles, 0.143, r0), "#111", 1.2),
    lines(spoke(ring1Angles, r0, r1), "#111", 1),
    lines(spoke(ring2Angles, r1, r2), "#111", 1),
    lines(spoke(ring3Angles, r2, r3), "#111", 1),
    lines(spoke(ring4Angles, r3, r4)),
    lines(spoke(ring5Angles, r4, r5)),
    lines(spoke(ring5Dense, r4, r5)),
    ...cladeWedges.map(([a0, a1, r]) => {
      const mid = (a0 + a1) / 2;
      return { type: "scatter", showLine: true, data: [polar(mid, r), polar(a0, 0.99), polar(a1, 0.99), polar(mid, r)], fill: "shape", backgroundColor: "#000", borderColor: "#000", borderWidth: 1, pointRadius: 0 };
    }),
    ...cladeStrong.map(([a, f, t, c, w]) => lines([polar(a, f), polar(a, t)], c, w)),
    nodes(ring5Dense, 0.985, 2.6),
    nodes(ring5Angles, r5, 2.8),
    nodes(ring4Angles, r4, 2.8),
    nodes(ring3Angles, r3, 3),
    nodes(ring2Angles, r2, 3.2),
    nodes(ring1Angles, r1, 3.4),
    nodes(ring0Angles, r0, 3.8),
    { type: "scatter", data: cladeMarked.map(([a, r]) => polar(a, r)), backgroundColor: cladeMarked.map((m) => m[2]), borderColor: cladeMarked.map((m) => (m[2] === "#000" ? "#000" : "#333")), pointBorderWidth: 0.8, pointRadius: cladeMarked.map((m) => m[3]) },
    { type: "scatter", data: [{ x: 0, y: 0 }], backgroundColor: "#b9b71e", pointRadius: 1, pointBorderWidth: 0 },
  ];
  return {
    type: "scatter",
    data: { datasets: bottomFirst.reverse() },
    options: {
      ...base(rect, plot),
      scales: {
        x: { type: "linear", display: false, min: -1.4, max: 1.4 },
        y: { type: "linear", display: false, min: -1.25, max: 1.25 },
      },
    },
    plugins: [arcsPlugin(cladeArcs)],
  };
}

function ldaConfig(rect, plot) {
  const labels = [...ldaKPLabels, ...ldaDSSLabels, ...ldaNCLabels];
  const values = [...ldaKPValues, ...ldaDSSValues, ...ldaNCValues];
  const colors = [...ldaKPLabels.map(() => swatch.K), ...ldaDSSLabels.map(() => swatch.D), ...ldaNCLabels.map(() => swatch.N)];
  return {
    type: "bar",
    data: { labels, datasets: [{ data: values, backgroundColor: colors, borderColor: "#1c1c1c", borderWidth: 1.6, barPercentage: 0.84, categoryPercentage: 1 }] },
    options: {
      ...base(rect, plot),
      indexAxis: "y",
      scales: {
        x: {
          type: "linear", min: 0, max: 5.119,
          afterBuildTicks: (s) => { s.ticks = ldaTicks.map((value) => ({ value })); },
          afterFit: (s) => { s.height = rect.b - plot.b; },
          ticks: { font: { family: DEJAVU, size: 17.5 }, color: "#111", padding: 13, callback: (v) => String(v) },
          grid: { display: false },
          border: { display: false },
          title: { display: true, text: "LDA SCORE (log 10)", font: { family: DEJAVU, size: 19 }, color: "#111", padding: { top: 0, bottom: 16 } },
        },
        y: {
          type: "category",
          afterFit: (s) => { s.width = plot.l - rect.l; },
          ticks: { font: { family: DEJAVU, size: 19.8 }, color: "#111", padding: 6, autoSkip: false },
          grid: { display: false },
          border: { display: false },
        },
      },
    },
    plugins: [ldaTickPlugin()],
  };
}

// ---------- page bits ----------
function T({ x, y, s, size, f = SERIF, a = "c", rot = 0, c = "#111", w = 400 }) {
  const tx = a === "c" ? "-50%" : a === "r" ? "-100%" : "0";
  return (
    <div style={{ position: "absolute", left: x, top: y, transform: `translate(${tx},-50%) rotate(${rot}deg)`, fontFamily: f, fontSize: size, color: c, fontWeight: w, whiteSpace: "pre", lineHeight: 1 }}>
      {s}
    </div>
  );
}

function Cv({ rect, make }) {
  const ref = useRef(null);
  useEffect(() => {
    const chart = new Chart(ref.current, make());
    return () => chart.destroy();
  }, []);
  return <canvas ref={ref} width={rect.r - rect.l} height={rect.b - rect.t} style={{ position: "absolute", left: rect.l, top: rect.t, width: rect.r - rect.l, height: rect.b - rect.t }} />;
}

function TopKey({ x, y, color }) {
  return (
    <div style={{ position: "absolute", left: x, top: y, width: 20, height: 20, background: color }}>
      <div style={{ position: "absolute", left: 4, top: 4, width: 12, height: 12, background: "#fbeeee" }} />
      <div style={{ position: "absolute", left: 6.5, top: 6.5, width: 3, height: 3, border: `2px solid ${color}`, borderRadius: "50%", background: "#fff" }} />
    </div>
  );
}

const rA = { l: 0, t: 100, r: 430, b: 415 };
const pA = { l: 41, t: 113, r: 411, b: 370 };
const rB = { l: 440, t: 90, r: 830, b: 425 };
const pB = { l: 487.5, t: 105, r: 816, b: 397 };
const rC = { l: 835, t: 95, r: 1225, b: 425 };
const pC = { l: 886.2, t: 108.3, r: 1205.9, b: 397.3 };
const rD = { l: 1260, t: 95, r: 1640, b: 420 };
const pD = { l: 1299.6, t: 108.3, r: 1615, b: 393.7 };
const rE = { l: 30, t: 485, r: 375, b: 810 };
const pE = { l: 66, t: 495.7, r: 362.7, b: 768.3 };
const rF = { l: 795, t: 485, r: 1130, b: 810 };
const pF = { l: 826.4, t: 498, r: 1124.4, b: 770 };
const rG = { l: 62.6, t: 874.3, r: 706.6, b: 1423 };
const rH = { l: 730, t: 930, r: 1650, b: 1930 };
const pH = { l: 1080.4, t: 962.8, r: 1645, b: 1841.9 };

const specB = { nc: brayNC, kp: brayKP, dss: brayDSS, ed: brayEllipseDSS, ek: brayEllipseKP, en: brayEllipseNC, xt: [-0.2, 0, 0.2, 0.4], yt: [-0.25, 0, 0.25, 0.5], yd: 2, lo: 0, xr: [-0.391, 0.423], yr: [-0.466, 0.6655], fx: 16, fy: 16, lw: 2.4, frame: { l: ["#666", 1.5], b: ["#666", 1.5], t: ["#888", 1.5], r: ["#999", 1.2] } };
const specC = { nc: jaccardNC, kp: jaccardKP, dss: jaccardDSS, ed: jaccardEllipseDSS, ek: jaccardEllipseKP, en: jaccardEllipseNC, xt: [-0.2, -0.1, 0, 0.1, 0.2, 0.3], yt: [-0.4, -0.2, 0, 0.2], yd: 1, lo: 1, xr: [-0.2485, 0.34], yr: [-0.4746, 0.39], fx: 14, fy: 14, lw: 1.8, frame: { l: ["#555", 1.5], b: ["#555", 1.5], t: ["#555", 1.5], r: ["#555", 1.5] } };
const specD = { nc: unifracNC, kp: unifracKP, dss: unifracDSS, ed: unifracEllipseDSS, ek: unifracEllipseKP, en: unifracEllipseNC, xt: [-0.1, 0, 0.1, 0.2], yt: [-0.2, 0, 0.2, 0.4], yd: 1, lo: 0, xr: [-0.1926, 0.274], yr: [-0.353, 0.4725], fx: 12, fy: 12, lw: 1.6, frame: { l: ["#333", 1.5], b: ["#333", 1.5], t: ["#333", 1.5], r: ["#333", 1.5] } };

export default function App() {
  const phyL = phylumNames.map((n, i) => {
    const col = i < 12 ? 0 : 1;
    const row = i % 12;
    const y = 506.7 + row * 21.73;
    return (
      <React.Fragment key={n}>
        <div style={{ position: "absolute", left: col ? 537 : 376, top: y - 1, width: 8, height: 8, background: phylumColors[i] }} />
        <T x={col ? 548 : 386} y={y} s={n} size={17} a="l" c="#222" />
      </React.Fragment>
    );
  });
  const genL = genusNames.map((n, i) => {
    const col = i < 15 ? 0 : 1;
    const y = col ? 494.5 + (i - 15) * 18.51 : 498.3 + i * 19.64;
    return (
      <React.Fragment key={n}>
        <div style={{ position: "absolute", left: col ? 1399.6 : 1135.7, top: y - 3, width: 8, height: 8, background: genusColors[i] }} />
        <T x={col ? 1410.4 : 1146} y={y} s={n} size={17} a="l" c="#222" />
      </React.Fragment>
    );
  });
  const cladeL = cladeLegend.map(([n, k], i) => {
    const y = 1424.5 + i * 28.05;
    return (
      <React.Fragment key={n}>
        <div style={{ position: "absolute", left: 121, top: y - 7.5, width: 39.5, height: 15, boxSizing: "border-box", background: swatch[k], border: "2px solid #1a1a1a" }} />
        <T x={174.6} y={y} s={n} size={18.6} f={DEJAVU} a="l" c="#222" />
      </React.Fragment>
    );
  });
  const letters = cladeLetters.map(([l, a, r, c]) => {
    const p = polar(a, r);
    return <T key={l} x={384.6 + p.x * 230} y={1148.7 - p.y * 219.5} s={l} size={11} f={DEJAVU} c={c} rot={a - 90} />;
  });

  return (
    <div style={{ position: "absolute", left: 0, top: 0, width: 1650, height: 1969, overflow: "hidden", background: "#fff" }}>
      <Cv rect={rA} make={() => violinConfig(rA, pA)} />
      <Cv rect={rB} make={() => pcoaConfig(rB, pB, specB)} />
      <Cv rect={rC} make={() => pcoaConfig(rC, pC, specC)} />
      <Cv rect={rD} make={() => pcoaConfig(rD, pD, specD)} />
      <Cv rect={rE} make={() => stackConfig(rE, pE, phylumNames, phylumColors, phylumNC, phylumDSS, phylumKP, 14)} />
      <Cv rect={rF} make={() => stackConfig(rF, pF, genusNames, genusColors, genusNC, genusDSS, genusKP, 13.5)} />
      <Cv rect={rG} make={() => cladeConfig(rG)} />
      <Cv rect={rH} make={() => ldaConfig(rH, pH)} />

      <TopKey x={663.5} y={0} color="#f47a76" />
      <T x={688} y={9.5} s="NC" size={27} a="l" />
      <TopKey x={786} y={0} color="#22b14c" />
      <T x={812} y={9.5} s="DSS" size={27} a="l" />
      <TopKey x={919.5} y={3.5} color="#6a8fce" />
      <T x={944} y={12.5} s="DSS+KP" size={27} a="l" />

      {[["A", 10, 49], ["B", 430, 49], ["C", 834, 49], ["D", 1255, 49], ["E", 9, 455], ["F", 784, 455], ["G", 10, 888], ["H", 750, 889]].map(([l, x, y]) => (
        <T key={l} x={x} y={y} s={l} size={28} f="'Liberation Sans'" w={700} c="#000" />
      ))}

      <T x={141} y={64} s={"Kruskal\u2212Wallis"} size={24} />
      <T x={118.6} y={105} s="DSS/NC (P=0.003)" size={18.3} />
      <T x={315.5} y={105} s="DSS+KP/DSS (P=0.010)" size={18.3} />
      <T x={172} y={147} s="*" size={26} />
      <T x={289.6} y={132} s="*" size={26} />
      <T x={11} y={220} s="shannon" size={23} rot={-90} />

      <T x={641} y={86} s="bray_curtis-PCoA (R=0.7716)" size={24} />
      <T x={708} y={127} s="DSS/NC (P=0.001)" size={17.2} />
      <T x={708} y={159} s="DSS+KP/DSS (P=0.002)" size={17.2} />
      <T x={642} y={430} s="PCoA1(23.19%)" size={24} />
      <T x={434} y={227} s="PCoA2(10.97%)" size={24} rot={-90} />

      <T x={1029} y={86.5} s="jaccard-PCoA  (R=0.7297)" size={24} />
      <T x={1108} y={128} s="DSS/NC (P=0.001)" size={18.3} />
      <T x={1103.7} y={164} s="DSS+KP/DSS (P=0.002)" size={18.3} />
      <T x={1036.5} y={432} s="PCoA1(10.18%)" size={24} />
      <T x={840} y={250} s="PCoA2(6%)" size={23.6} rot={-90} />

      <T x={1457.4} y={60} s="unweighted_unifrac-PCoA" size={24} />
      <T x={1460.5} y={89} s="(R=0.6631)" size={24} />
      <T x={1499.7} y={123} s="DSS/NC (P=0.002)" size={20.7} />
      <T x={1505.5} y={156} s="DSS+KP/DSS (P=0.029)" size={20.7} />
      <T x={1459.5} y={428} s="PCoA1(13.05%)" size={21} />
      <T x={1256.7} y={252} s="PCoA2(7.66%)" size={20.7} rot={-90} />

      <T x={229} y={478} s="Phylum" size={23.5} />
      <T x={22} y={637} s="Relative Abundance(%)" size={24} rot={-90} />
      {phyL}
      <T x={996.7} y={478} s="Genus" size={23.5} />
      <T x={786.7} y={620} s="Relative Abundance(%)" size={24} rot={-90} />
      {genL}

      <T x={159} y={948} s="Cladogram" size={41} />
      {letters}
      {cladeL}

      <div style={{ position: "absolute", left: 1084.5, top: 876, width: 45.5, height: 26, background: "#050505" }} />
      <T x={1145.5} y={888} s="NC" size={27} a="l" />
      <div style={{ position: "absolute", left: 1228, top: 876, width: 45, height: 26, background: swatch.D }} />
      <T x={1285.7} y={888} s="DSS" size={27} a="l" />
      <div style={{ position: "absolute", left: 1376.7, top: 876, width: 45, height: 26, background: swatch.K }} />
      <T x={1442} y={888} s="KP" size={27} a="l" />
    </div>
  );
}
